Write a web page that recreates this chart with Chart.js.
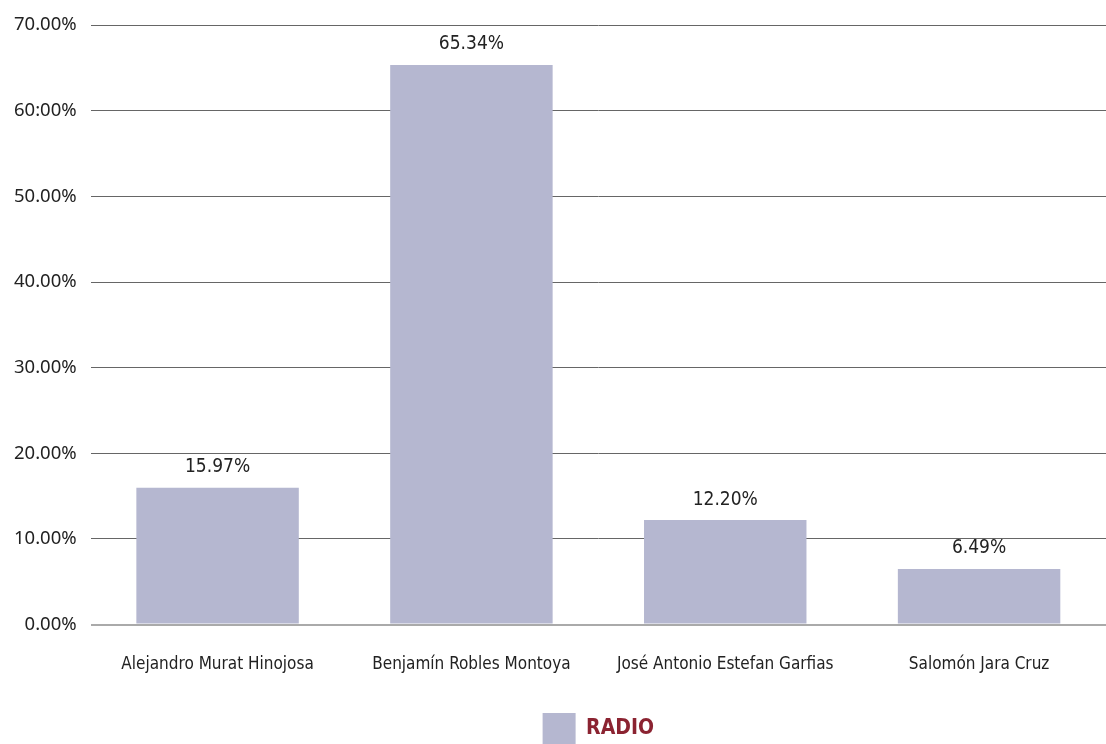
<!DOCTYPE html>
<html>
<head>
<meta charset="utf-8">
<script src="https://cdn.jsdelivr.net/npm/chart.js@4"></script>
<style>
  html, body { margin: 0; padding: 0; background: #fff; }
  #wrap { width: 1106px; height: 744px; position: relative; }
</style>
</head>
<body>
<div id="wrap"><canvas id="grafica"></canvas></div>
<script>
    // datos
    let candidatos = ["Alejandro Murat Hinojosa", "Benjamín Robles Montoya", "José Antonio Estefan Garfias", "Salomón Jara Cruz"];
    let radio = [15.97, 65.34, 12.20, 6.49];
    let etiquetasY = ["0.00%", "10.00%", "20.00%", "30.00%", "40.00%", "50.00%", "60:00%", "70.00%"];

    let condensada = "'Liberation Sans Narrow', 'DejaVu Sans Condensed', sans-serif";

    // etiquetas encima de cada barra
    let etiquetasBarras = {
        id: "etiquetasBarras",
        afterDatasetsDraw(chart) {
            let ctx = chart.ctx;
            let meta = chart.getDatasetMeta(0);
            ctx.save();
            ctx.font = "19px " + condensada;
            ctx.fillStyle = "#222";
            ctx.textAlign = "center";
            ctx.textBaseline = "bottom";
            meta.data.forEach(function (bar, i) {
                ctx.fillText(radio[i].toFixed(2) + "%", bar.x, bar.y - 11);
            });
            ctx.restore();
        }
    };

    let grafica = document.getElementById("grafica").getContext("2d");

    var chart = new Chart(grafica, {
        type: "bar",
        data: {
            labels: candidatos,
            datasets: [
                {
                    label: "RADIO",
                    backgroundColor: "rgb(181,183,208)",
                    borderWidth: 0,
                    data: radio,
                    barPercentage: 0.64,
                    categoryPercentage: 1
                }
            ]
        },
        options: {
            responsive: true,
            maintainAspectRatio: false,
            animation: false,
            layout: { padding: { top: 16, right: 0, bottom: -10, left: 0 } },
            plugins: {
                tooltip: { enabled: false },
                legend: {
                    position: "bottom",
                    fullSize: false,
                    labels: {
                        boxWidth: 33,
                        boxHeight: 31,
                        padding: 0,
                        color: "#8b2331",
                        font: { family: condensada, size: 21, weight: "bold" }
                    }
                }
            },
            scales: {
                x: {
                    grid: { display: false, drawTicks: false },
                    border: { display: false },
                    afterFit: function (scale) { scale.height += 8; },
                    ticks: {
                        color: "#222",
                        padding: 30,
                        font: { family: condensada, size: 17 }
                    }
                },
                y: {
                    min: 0,
                    max: 70,
                    z: 1,
                    grid: {
                        drawTicks: false,
                        color: function (c) { return c.tick && c.tick.value === 0 ? "#aaaaaa" : "#666666"; },
                        lineWidth: function (c) { return c.tick && c.tick.value === 0 ? 2 : 1; }
                    },
                    border: { display: false },
                    ticks: {
                        stepSize: 10,
                        padding: 14,
                        color: "#222",
                        font: { family: "'Noto Sans', 'Open Sans', sans-serif", size: 18.5 },
                        callback: function (v, i) { return etiquetasY[i]; }
                    }
                }
            }
        },
        plugins: [etiquetasBarras]
    });
</script>
</body>
</html>
